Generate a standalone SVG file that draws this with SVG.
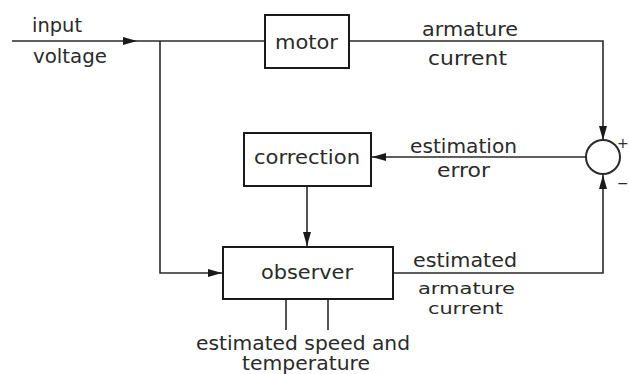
<svg xmlns="http://www.w3.org/2000/svg" width="629" height="374" viewBox="0 0 629 374">
  <style>
    .box { fill: #fff; stroke: #1a1a1a; stroke-width: 2; }
    .wire { fill: none; stroke: #2a2a2a; stroke-width: 1.6; }
    .lbl { font-family: "DejaVu Sans", "Liberation Sans", sans-serif; font-size: 19px; fill: #2a2a2a; }
    .sm { font-size: 16px; }
    .sign { font-family: "DejaVu Sans", "Liberation Sans", sans-serif; font-size: 14px; fill: #2a2a2a; }
    .blk { font-family: "DejaVu Sans", "Liberation Sans", sans-serif; font-size: 20px; fill: #2a2a2a; }
    .sum { fill: #fff; stroke: #2a2a2a; stroke-width: 2; }
  </style>
  <defs>
    <marker id="arr" viewBox="0 0 14 8" refX="14" refY="4" markerWidth="14" markerHeight="8" markerUnits="userSpaceOnUse" orient="auto">
      <path d="M0,0 L14,4 L0,8 Z" fill="#1a1a1a"/>
    </marker>
  </defs>

  <!-- connectors -->
  <g id="connectors">
    <!-- input voltage into motor, with arrowhead partway -->
    <path class="wire" d="M12,41 L137,41" marker-end="url(#arr)"/>
    <path class="wire" d="M137,41 L265,41"/>
    <!-- branch to observer -->
    <path class="wire" d="M160,41 L160,273 L222,273" marker-end="url(#arr)"/>
    <!-- motor armature current down to summing junction -->
    <path class="wire" d="M349,41 L603,41 L603,140" marker-end="url(#arr)"/>
    <!-- estimation error into correction -->
    <path class="wire" d="M586,157 L372,157" marker-end="url(#arr)"/>
    <!-- correction into observer -->
    <path class="wire" d="M307,186 L307,246" marker-end="url(#arr)"/>
    <!-- estimated armature current up to summing junction -->
    <path class="wire" d="M393,273 L603,273 L603,175" marker-end="url(#arr)"/>
    <!-- observer outputs -->
    <path class="wire" d="M286,299 L286,330 M328,299 L328,330"/>
  </g>

  <g id="motor">
    <rect class="box" x="265" y="15" width="84" height="53"/>
    <text class="blk" x="275" y="49" textLength="63" lengthAdjust="spacingAndGlyphs">motor</text>
  </g>

  <g id="correction">
    <rect class="box" x="244" y="133" width="127" height="53"/>
    <text class="blk" x="254" y="164" textLength="106" lengthAdjust="spacingAndGlyphs">correction</text>
  </g>

  <g id="observer">
    <rect class="box" x="223" y="247" width="170" height="52"/>
    <text class="blk" x="261" y="279" textLength="92" lengthAdjust="spacingAndGlyphs">observer</text>
  </g>

  <g id="summing-junction">
    <circle class="sum" cx="603" cy="157" r="17"/>
    <text class="sign" x="617" y="148">+</text>
    <text class="sign" x="617" y="188">−</text>
  </g>

  <g id="labels">
    <text class="lbl" x="32" y="32" textLength="50" lengthAdjust="spacingAndGlyphs">input</text>
    <text class="lbl" x="33" y="63" textLength="74" lengthAdjust="spacingAndGlyphs">voltage</text>
    <text class="lbl" x="422" y="36" textLength="96" lengthAdjust="spacingAndGlyphs">armature</text>
    <text class="lbl" x="428" y="65" textLength="79" lengthAdjust="spacingAndGlyphs">current</text>
    <text class="lbl" x="410" y="153" textLength="107" lengthAdjust="spacingAndGlyphs">estimation</text>
    <text class="lbl" x="437" y="177" textLength="53" lengthAdjust="spacingAndGlyphs">error</text>
    <text class="lbl" x="413" y="267" textLength="104" lengthAdjust="spacingAndGlyphs">estimated</text>
    <text class="lbl sm" x="418" y="294" textLength="97" lengthAdjust="spacingAndGlyphs">armature</text>
    <text class="lbl sm" x="428" y="314" textLength="75" lengthAdjust="spacingAndGlyphs">current</text>
    <text class="lbl" x="196" y="350" textLength="214" lengthAdjust="spacingAndGlyphs">estimated speed and</text>
    <text class="lbl" x="242" y="370" textLength="128" lengthAdjust="spacingAndGlyphs">temperature</text>
  </g>
</svg>
